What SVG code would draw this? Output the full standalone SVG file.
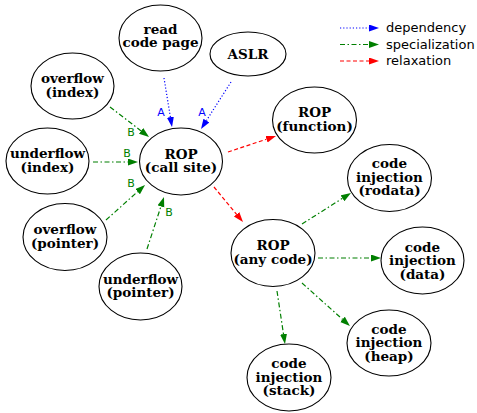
<svg xmlns="http://www.w3.org/2000/svg" width="477" height="413" viewBox="0 0 477 413">
<defs>
<style>
.n ellipse{fill:#fff;stroke:#000;stroke-width:1.1}
.n text{font-family:"DejaVu Serif","Liberation Serif",serif;font-weight:bold;font-size:13.5px;text-anchor:middle;fill:#000}
.dep{stroke:#00f;stroke-width:1.2;stroke-dasharray:1.2,2;fill:none}
.spec{stroke:#007f00;stroke-width:1.2;stroke-dasharray:5,2.5,1.5,2.5;fill:none}
.rel{stroke:#f00;stroke-width:1.2;stroke-dasharray:4,2.5;fill:none}
.lbl{font-family:"DejaVu Sans","Liberation Sans",sans-serif;font-size:11px;text-anchor:middle}
.leg{font-family:"DejaVu Sans","Liberation Sans",sans-serif;font-size:13px;fill:#000}
</style>
<marker id="aB" markerUnits="userSpaceOnUse" markerWidth="10" markerHeight="8" refX="0" refY="3.5" orient="auto"><path d="M0,0 L10,3.5 L0,7 z" fill="#00f"/></marker>
<marker id="aG" markerUnits="userSpaceOnUse" markerWidth="10" markerHeight="8" refX="0" refY="3.5" orient="auto"><path d="M0,0 L10,3.5 L0,7 z" fill="#007f00"/></marker>
<marker id="aR" markerUnits="userSpaceOnUse" markerWidth="10" markerHeight="8" refX="0" refY="3.5" orient="auto"><path d="M0,0 L10,3.5 L0,7 z" fill="#f00"/></marker>
</defs>
<rect width="477" height="413" fill="#fff"/>

<g id="edges">
<path class="dep" d="M164,78 L170.4,117.1" marker-end="url(#aB)"/>
<path class="dep" d="M231,82 L206.4,120.6" marker-end="url(#aB)"/>
<path class="spec" d="M110,107 L141.1,130.9" marker-end="url(#aG)"/>
<path class="spec" d="M93,162 L128,162" marker-end="url(#aG)"/>
<path class="spec" d="M106,220 L137.6,191.7" marker-end="url(#aG)"/>
<path class="spec" d="M147,249 L160.9,206.5" marker-end="url(#aG)"/>
<path class="rel" d="M228,152 L266.5,139.2" marker-end="url(#aR)"/>
<path class="rel" d="M214,187 L236.6,214.3" marker-end="url(#aR)"/>
<path class="spec" d="M302,224 L342.5,198.3" marker-end="url(#aG)"/>
<path class="spec" d="M318,258 L371,258" marker-end="url(#aG)"/>
<path class="spec" d="M302,283 L342.5,319.3" marker-end="url(#aG)"/>
<path class="spec" d="M277,291 L283.5,334.1" marker-end="url(#aG)"/>
<text class="lbl" x="161" y="116" fill="#00f">A</text>
<text class="lbl" x="202" y="116" fill="#00f">A</text>
<text class="lbl" x="131" y="136" fill="#007f00">B</text>
<text class="lbl" x="127" y="157" fill="#007f00">B</text>
<text class="lbl" x="131" y="187" fill="#007f00">B</text>
<text class="lbl" x="169" y="216" fill="#007f00">B</text>
</g>

<g id="legend">
<path class="dep" d="M340,28 L369,28" marker-end="url(#aB)"/>
<path class="spec" d="M340,44.5 L369,44.5" marker-end="url(#aG)"/>
<path class="rel" d="M340,61 L369,61" marker-end="url(#aR)"/>
<text class="leg" x="386" y="32">dependency</text>
<text class="leg" x="386" y="48.5">specialization</text>
<text class="leg" x="386" y="65">relaxation</text>
</g>

<g id="read" class="n"><ellipse cx="160.5" cy="38" rx="41.5" ry="33"/><text x="160.5" y="33.5">read<tspan x="160.5" dy="13.5">code page</tspan></text></g>
<g id="aslr" class="n"><ellipse cx="248" cy="54" rx="38" ry="22"/><text x="248" y="58.5">ASLR</text></g>
<g id="ovidx" class="n"><ellipse cx="72.5" cy="86" rx="41.5" ry="33"/><text x="72.5" y="83">overflow<tspan x="72.5" dy="13.5">(index)</tspan></text></g>
<g id="unidx" class="n"><ellipse cx="47.5" cy="161" rx="41.5" ry="33"/><text x="47.5" y="158">underflow<tspan x="47.5" dy="13.5">(index)</tspan></text></g>
<g id="ropcall" class="n"><ellipse cx="181" cy="161.5" rx="41.5" ry="33.5"/><text x="181" y="158.5">ROP<tspan x="181" dy="13.5">(call site)</tspan></text></g>
<g id="ovptr" class="n"><ellipse cx="65" cy="237" rx="42" ry="33.5"/><text x="65" y="234">overflow<tspan x="65" dy="13.5">(pointer)</tspan></text></g>
<g id="unptr" class="n"><ellipse cx="140.5" cy="286.5" rx="41.5" ry="33.5"/><text x="140.5" y="283.5">underflow<tspan x="140.5" dy="13.5">(pointer)</tspan></text></g>
<g id="ropfn" class="n"><ellipse cx="314.5" cy="120" rx="42" ry="33"/><text x="314.5" y="117">ROP<tspan x="314.5" dy="13.5">(function)</tspan></text></g>
<g id="ropany" class="n"><ellipse cx="273" cy="253" rx="42" ry="33.5"/><text x="273" y="250">ROP<tspan x="273" dy="13.5">(any code)</tspan></text></g>
<g id="cirodata" class="n"><ellipse cx="389.5" cy="178" rx="42" ry="33.5"/><text x="389.5" y="168">code<tspan x="389.5" dy="13.5">injection</tspan><tspan x="389.5" dy="13.5">(rodata)</tspan></text></g>
<g id="cidata" class="n"><ellipse cx="422.5" cy="260.5" rx="41.5" ry="33.5"/><text x="422.5" y="251.5">code<tspan x="422.5" dy="13.5">injection</tspan><tspan x="422.5" dy="13.5">(data)</tspan></text></g>
<g id="ciheap" class="n"><ellipse cx="389" cy="343" rx="42" ry="33"/><text x="389" y="333.5">code<tspan x="389" dy="13.5">injection</tspan><tspan x="389" dy="13.5">(heap)</tspan></text></g>
<g id="cistack" class="n"><ellipse cx="289" cy="377.5" rx="42" ry="33.5"/><text x="289" y="368">code<tspan x="289" dy="13.5">injection</tspan><tspan x="289" dy="13.5">(stack)</tspan></text></g>
</svg>
